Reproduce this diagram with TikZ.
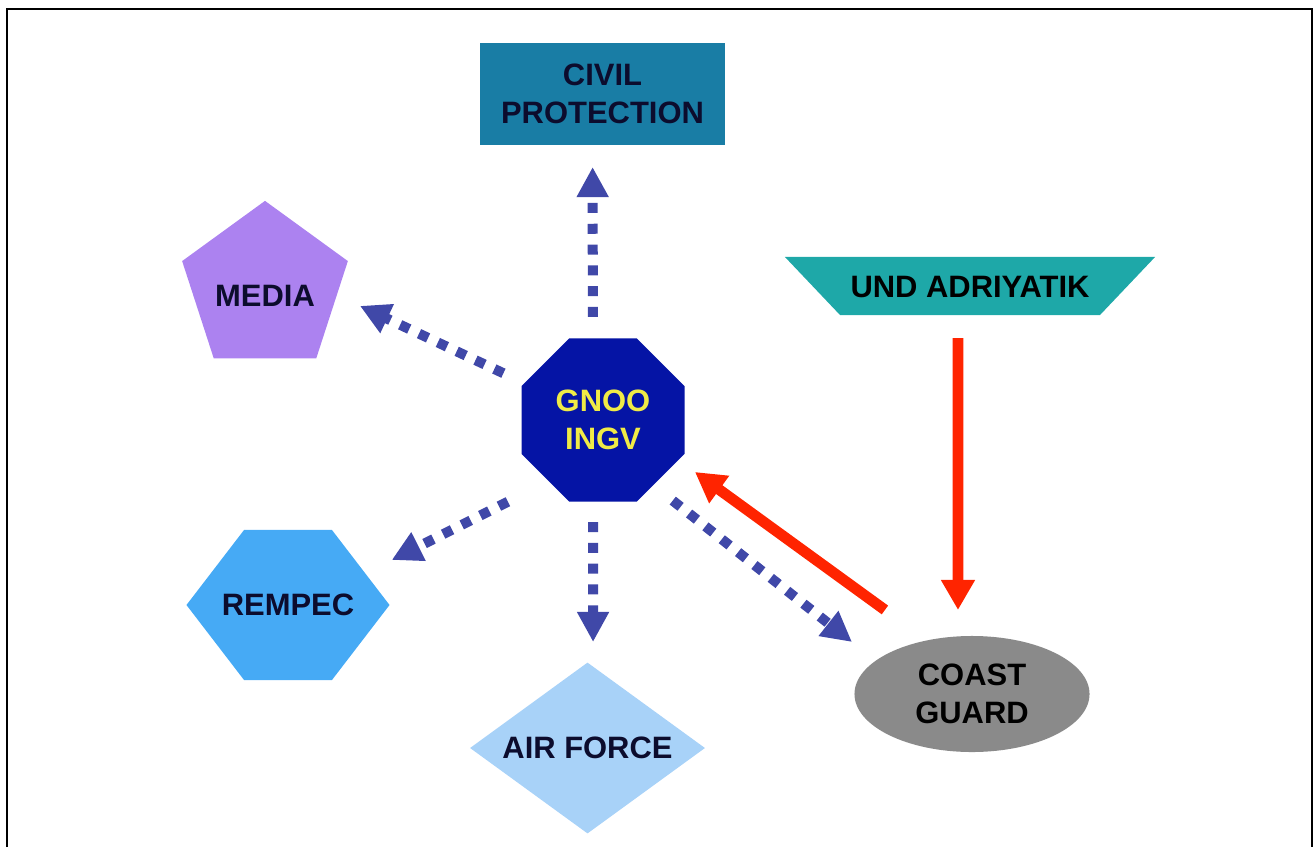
\documentclass[tikz,border=0pt]{standalone}
\usepackage{fontspec}
\setmainfont{Liberation Sans}
\usetikzlibrary{shapes.geometric,shapes.symbols,arrows.meta}
\definecolor{civilblue}{RGB}{25,125,165}
\definecolor{undteal}{RGB}{30,168,168}
\definecolor{medialilac}{RGB}{172,130,240}
\definecolor{gnoonavy}{RGB}{5,20,165}
\definecolor{gnooyellow}{RGB}{240,235,70}
\definecolor{rempecblue}{RGB}{70,170,245}
\definecolor{airblue}{RGB}{168,210,248}
\definecolor{coastgrey}{RGB}{138,138,138}
\definecolor{labelnavy}{RGB}{12,12,45}
\definecolor{dotblue}{RGB}{64,72,168}
\definecolor{arrowred}{RGB}{255,36,0}
\begin{document}
\begin{tikzpicture}[x=0.025cm, y=-0.025cm,
    every node/.style={font=\fontsize{22}{27}\selectfont\bfseries, text=labelnavy, align=center, inner sep=0pt},
    dotarrow/.style={line width=0.25cm, draw=dotblue, dash pattern=on 0.25cm off 0.27cm, -{Triangle[width=0.75cm, length=0.75cm]}},
    redarrow/.style={line width=0.27cm, draw=arrowred, -{Triangle[width=0.8cm, length=0.75cm]}}]
    \useasboundingbox (0,0) rectangle (1313,847);
    \draw[line width=0.0625cm] (7,847) -- (7,9) -- (1311.8,9) -- (1311.8,847);

    \node (civil) [rectangle, fill=civilblue, minimum width=6.125cm, minimum height=2.55cm] at (602.5,94) {CIVIL\\PROTECTION};
    \node (und) [trapezium, trapezium left angle=133.5, trapezium right angle=133.5, trapezium stretches body, fill=undteal, text=black, text height=1cm, text depth=0.45cm, minimum width=9.25cm] at (970,286) {UND ADRIYATIK};
    \node (media) [regular polygon, regular polygon sides=5, fill=medialilac, text height=0.9cm, text depth=0cm, minimum size=4.35cm] at (265,288) {MEDIA};
    \node (gnoo) [regular polygon, regular polygon sides=8, fill=gnoonavy, text=gnooyellow, minimum size=4.41cm] at (603,420) {GNOO\\INGV};
    \node (rempec) [signal, signal to=west and east, signal pointer angle=105, fill=rempecblue, minimum width=5.075cm, minimum height=3.75cm] at (288,605) {\makebox[0pt]{REMPEC}};
    \node (airforce) [diamond, aspect=1.38, fill=airblue, minimum width=5.875cm, minimum height=4.275cm] at (587.5,748) {AIR FORCE};
    \node (coast) [ellipse, fill=coastgrey, text=black, minimum width=5.875cm, minimum height=2.9cm] at (972,694) {COAST\\GUARD};

    \draw[dotarrow, shorten <=2.575cm, shorten >=1.825cm] ([xshift=-0.25cm]gnoo.center) -- ([xshift=-0.25cm]civil.center);
    \draw[dotarrow, shorten <=2.75cm, shorten >=2.76cm] (gnoo.center) -- ([xshift=-0.125cm, yshift=0.725cm]media.center);
    \draw[dotarrow, shorten <=2.66cm, shorten >=2.9cm] ([yshift=-0.85cm]gnoo.center) -- ([yshift=-0.175cm]rempec.center);
    \draw[dotarrow, shorten <=2.55cm, shorten >=2.65cm] ([xshift=-0.25cm]gnoo.center) -- ([xshift=0.14cm]airforce.center);
    \draw[dotarrow, shorten <=2.22cm, shorten >=3.82cm] ([yshift=-0.64cm]gnoo.center) -- ([yshift=-1.065cm]coast.center);
    \draw[redarrow, shorten <=2.69cm, shorten >=2.84cm] ([yshift=0.52cm]coast.center) -- ([yshift=0.37cm]gnoo.center);
    \draw[redarrow, shorten <=1.3cm, shorten >=2.1cm] ([xshift=-0.3cm]und.center) -- ([xshift=-0.35cm]coast.center);
\end{tikzpicture}
\end{document}
